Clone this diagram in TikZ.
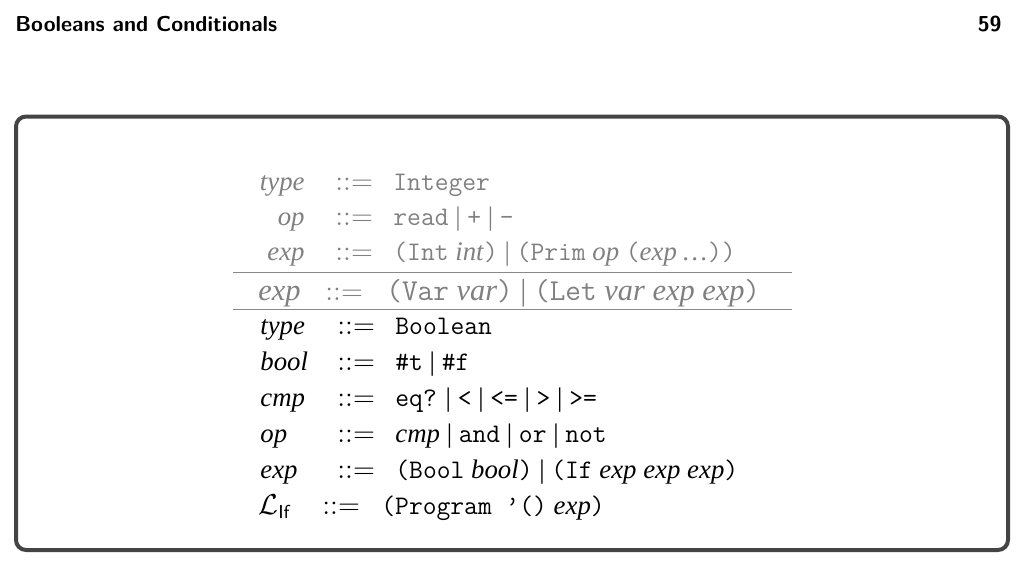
\documentclass[tikz,border=0pt]{standalone}
\usepackage{fontspec}
\setmainfont{Liberation Serif}
\definecolor{framegray}{HTML}{444444}
\definecolor{oldgray}{HTML}{808080}
\definecolor{rulegray}{HTML}{888888}
\newcommand{\gor}{\textrm{ | }}
\tikzset{
  gram/.style={inner sep=0pt, font=\fontsize{13.4}{16}\selectfont},
  head/.style={inner sep=0pt, font=\fontsize{10.8}{13}\selectfont\sffamily\bfseries},
  old/.style={gram, text=oldgray},
  oldbig/.style={old, font=\fontsize{15.2}{18}\selectfont},
  sepline/.style={draw=rulegray, line width=0.5pt},
  slide/.style={draw=framegray, line width=2pt, rounded corners=5pt}
}
\begin{document}
\begin{tikzpicture}[x=0.5pt,y=-0.5pt]
  \useasboundingbox (0,0) rectangle (1025,568);
  \node[head, anchor=base west] (title) at (15,31) {Booleans and Conditionals};
  \node[head, anchor=base east] (page) at (1002,31) {59};
  \draw[slide] (16,116.5) rectangle (1008,550);
  % earlier language, in gray
  \foreach \y/\l/\r [count=\i] in {
      190/type/{\texttt{Integer}},
      225/op/{\texttt{read}\gor\texttt{+}\gor\texttt{-}},
      260/exp/{\texttt{(Int} \textit{int}\texttt{)}\gor\texttt{(Prim} \textit{op} \texttt{(}\textit{exp}\,\ldots\texttt{))}}}
  {
    \node[old, anchor=base east] (oldlhs\i) at (305,\y) {\textit{\l}};
    \node[old, anchor=base west] (olddef\i) at (335,\y) {$::=$};
    \node[old, anchor=base west] (oldrhs\i) at (393,\y) {\r};
  }
  \draw[sepline] (233,272) -- (792,272);
  \node[oldbig, anchor=base west] (varlhs) at (258,300) {\textit{exp}};
  \node[oldbig, anchor=base west] (vardef) at (325,300) {$::=$};
  \node[oldbig, anchor=base west] (varrhs) at (386,300)
    {\texttt{(Var} \textit{var}\texttt{)}\gor\texttt{(Let} \textit{var exp exp}\texttt{)}};
  \draw[sepline] (233,309) -- (792,309);
  % new rules
  \foreach \y/\l/\r [count=\i] in {
      334/type/{\texttt{Boolean}},
      370/bool/{\texttt{\#t}\gor\texttt{\#f}},
      406/cmp/{\texttt{eq?}\gor\texttt{<}\gor\texttt{<=}\gor\texttt{>}\gor\texttt{>=}},
      442/op/{\textit{cmp}\gor\texttt{and}\gor\texttt{or}\gor\texttt{not}},
      478/exp/{\texttt{(Bool} \textit{bool}\texttt{)}\gor\texttt{(If} \textit{exp exp exp}\texttt{)}}}
  {
    \node[gram, anchor=base west] (lhs\i) at (260,\y) {\textit{\l}};
    \node[gram, anchor=base west] (def\i) at (337,\y) {$::=$};
    \node[gram, anchor=base west] (rhs\i) at (395,\y) {\r};
  }
  \node[gram, anchor=base west] (proglhs) at (258,514) {$\mathcal{L}_{\mathsf{If}}$};
  \node[gram, anchor=base west] (progdef) at (322,514) {$::=$};
  \node[gram, anchor=base west] (progrhs) at (381,514) {\texttt{(Program ’()} \textit{exp}\texttt{)}};
\end{tikzpicture}
\end{document}
